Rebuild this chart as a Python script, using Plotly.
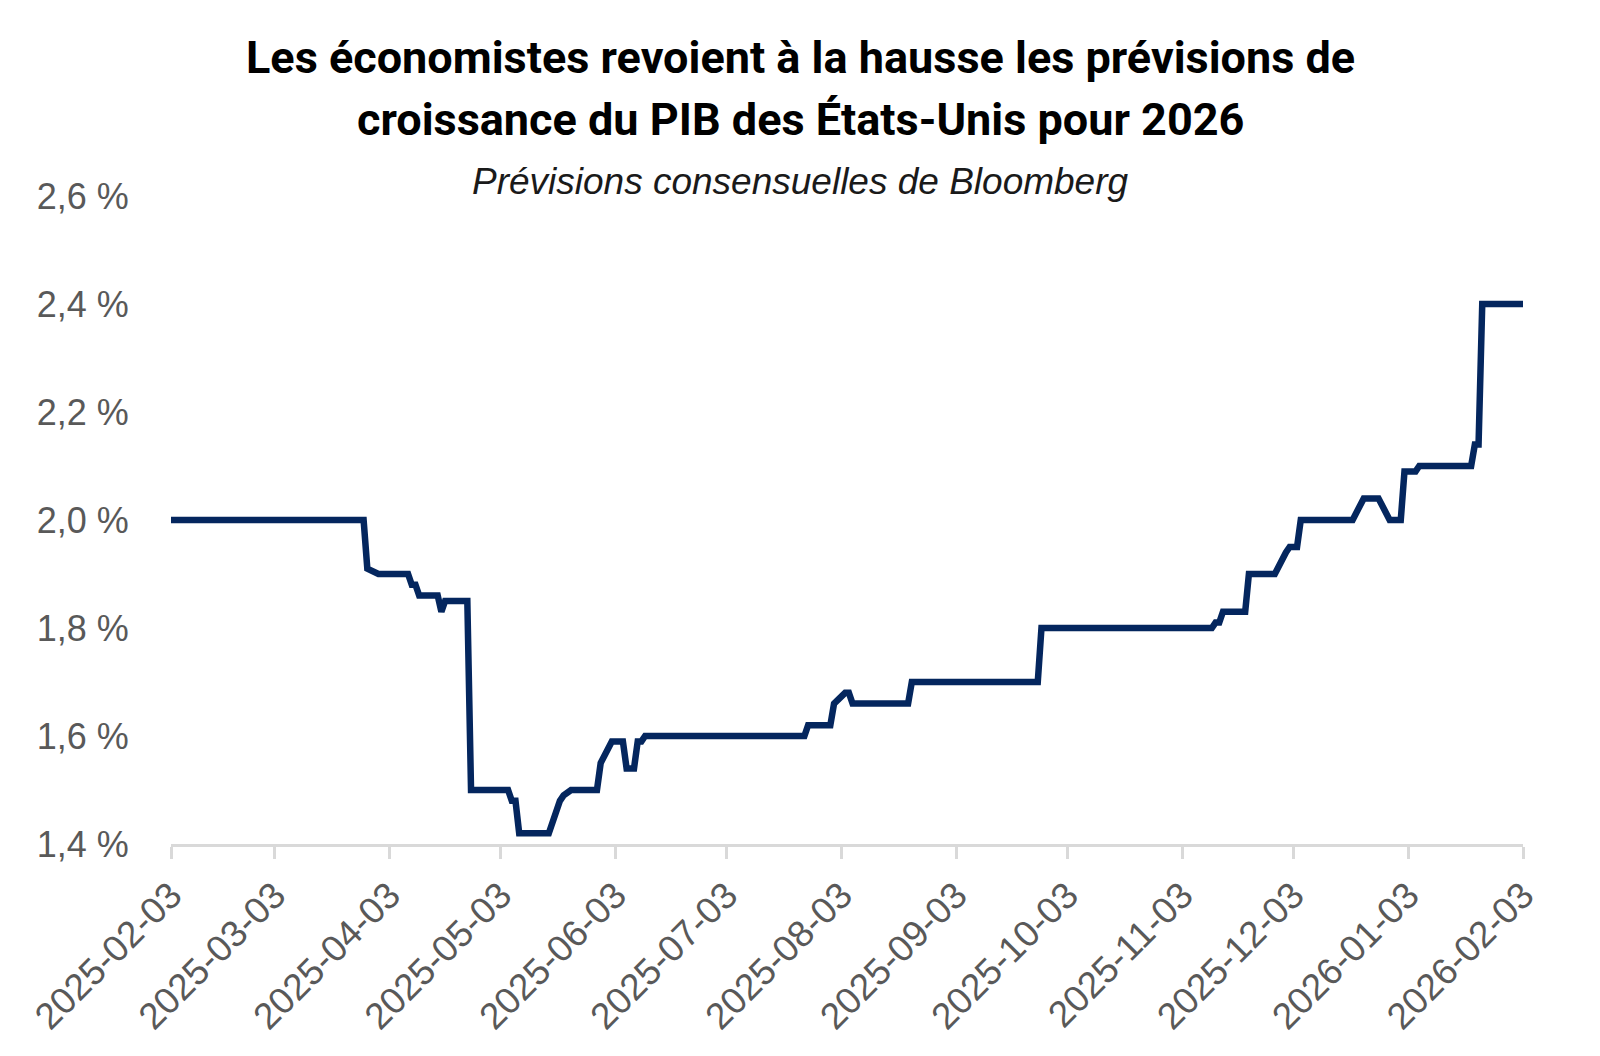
import plotly.graph_objects as go

# Bloomberg consensus, US GDP growth forecast for 2026 (in %)
dates = [
    "2025-02-03", "2025-03-27", "2025-03-28", "2025-03-31", "2025-04-08",
    "2025-04-09", "2025-04-10", "2025-04-11", "2025-04-16", "2025-04-17",
    "2025-04-18", "2025-04-24", "2025-04-25", "2025-05-05", "2025-05-06",
    "2025-05-07", "2025-05-08", "2025-05-16", "2025-05-19", "2025-05-20",
    "2025-05-22", "2025-05-29", "2025-05-30", "2025-06-02", "2025-06-05",
    "2025-06-06", "2025-06-08", "2025-06-09", "2025-06-10", "2025-06-11",
    "2025-07-24", "2025-07-25", "2025-07-31", "2025-08-01", "2025-08-04",
    "2025-08-05", "2025-08-06", "2025-08-21", "2025-08-22", "2025-09-25",
    "2025-09-26", "2025-11-11", "2025-11-12", "2025-11-13", "2025-11-14",
    "2025-11-20", "2025-11-21", "2025-11-28", "2025-12-01", "2025-12-02",
    "2025-12-04", "2025-12-05", "2025-12-19", "2025-12-22", "2025-12-26",
    "2025-12-29", "2026-01-01", "2026-01-02", "2026-01-05", "2026-01-06",
    "2026-01-20", "2026-01-21", "2026-01-22", "2026-01-23", "2026-02-03",
]
forecast = [
    2.00, 2.00, 1.91, 1.90, 1.90,
    1.88, 1.88, 1.86, 1.86, 1.83,
    1.85, 1.85, 1.50, 1.50, 1.48,
    1.48, 1.42, 1.42, 1.48, 1.49,
    1.50, 1.50, 1.55, 1.59, 1.59,
    1.54, 1.54, 1.59, 1.59, 1.60,
    1.60, 1.62, 1.62, 1.66, 1.68,
    1.68, 1.66, 1.66, 1.70, 1.70,
    1.80, 1.80, 1.81, 1.81, 1.83,
    1.83, 1.90, 1.90, 1.94, 1.95,
    1.95, 2.00, 2.00, 2.04, 2.04,
    2.00, 2.00, 2.09, 2.09, 2.10,
    2.10, 2.14, 2.14, 2.40, 2.40,
]

y_ticks = [1.4, 1.6, 1.8, 2.0, 2.2, 2.4, 2.6]
y_labels = ["1,4 %", "1,6 %", "1,8 %", "2,0 %", "2,2 %", "2,4 %", "2,6 %"]
x_ticks = [
    "2025-02-03", "2025-03-03", "2025-04-03", "2025-05-03", "2025-06-03",
    "2025-07-03", "2025-08-03", "2025-09-03", "2025-10-03", "2025-11-03",
    "2025-12-03", "2026-01-03", "2026-02-03",
]

title_1 = "Les économistes revoient à la hausse les prévisions de"
title_2 = "croissance du PIB des États-Unis pour 2026"
subtitle = "Prévisions consensuelles de Bloomberg"

W, H = 1600, 1056
L, R, T, B = 171, 77, 196, 212
bold_font = "Roboto, Liberation Sans, sans-serif"
plain = "Liberation Sans, Arial, sans-serif"


def paper_y(py):
    return (H - B - py) / (H - T - B)


def paper_x(px):
    return (px - L) / (W - L - R)


fig = go.Figure(go.Scatter(
    x=dates, y=forecast, mode="lines",
    line=dict(color="#04265E", width=6.5),
    hoverinfo="skip",
))

fig.update_layout(
    width=W, height=H,
    margin=dict(l=L, r=R, t=T, b=B),
    plot_bgcolor="white", paper_bgcolor="white",
    showlegend=False,
    font=dict(family=plain, color="#595959"),
)

fig.update_xaxes(
    type="date", range=["2025-02-03", "2026-02-03"],
    tickvals=x_ticks, ticktext=x_ticks, tickangle=-45,
    tickfont=dict(size=37, color="#595959", family=plain),
    showline=True, linecolor="#d9d9d9", linewidth=2.5,
    ticks="outside", ticklen=12, tickwidth=2.5, tickcolor="#d9d9d9",
    showgrid=False, zeroline=False,
)
fig.update_yaxes(
    range=[1.4, 2.6], tickvals=y_ticks, ticktext=y_labels,
    tickfont=dict(size=36, color="#595959", family=plain),
    ticks="outside", ticklen=34, tickcolor="rgba(0,0,0,0)",
    showline=False, showgrid=False, zeroline=False,
)

fig.add_annotation(text="<b>" + title_1 + "</b>", xref="paper", yref="paper",
                   x=paper_x(800), y=paper_y(58), showarrow=False,
                   xanchor="center", yanchor="middle",
                   font=dict(size=45, color="black", family=bold_font))
fig.add_annotation(text="<b>" + title_2 + "</b>", xref="paper", yref="paper",
                   x=paper_x(800), y=paper_y(120), showarrow=False,
                   xanchor="center", yanchor="middle",
                   font=dict(size=45, color="black", family=bold_font))
fig.add_annotation(text="<i>" + subtitle + "</i>", xref="paper", yref="paper",
                   x=paper_x(800), y=paper_y(182), showarrow=False,
                   xanchor="center", yanchor="middle",
                   font=dict(size=37, color="#1a1a1a", family=plain))

fig.write_html("out.html", config={"displayModeBar": False},
               post_script="document.body.style.margin='0';")
